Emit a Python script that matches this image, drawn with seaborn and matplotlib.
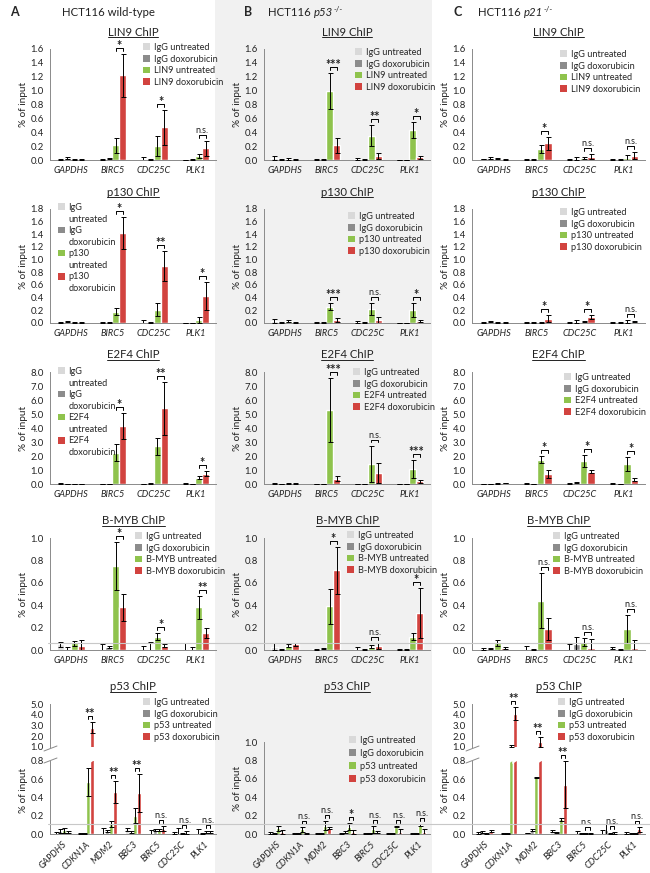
import numpy as np
import pandas as pd
import matplotlib
matplotlib.use("Agg")
import matplotlib.pyplot as plt
import matplotlib.transforms as mtrans
from matplotlib.patches import Patch, Rectangle, Polygon
from matplotlib.lines import Line2D
import seaborn as sns

sns.set_style("white")
plt.rcParams['font.family'] = ['Lato', 'DejaVu Sans']

W, H = 650, 873
colors = ["#d9d9d9", "#8c8c8c", "#8fc34d", "#d2433f"]
genes = ["GAPDHS", "BIRC5", "CDC25C", "PLK1"]
genes_p53 = ["GAPDHS", "CDKN1A", "MDM2", "BBC3", "BIRC5", "CDC25C", "PLK1"]

# rows = genes, columns = IgG untreated, IgG doxorubicin, X untreated, X doxorubicin
lin9_a = [[0.01, 0.03, 0.01, 0.01], [0.005, 0.02, 0.21, 1.22], [0.005, 0.005, 0.20, 0.47], [0.0, 0.005, 0.06, 0.17]]
lin9_a_err = [[0.005, 0.01, 0.005, 0.005], [0.003, 0.01, 0.11, 0.31], [0.04, 0.005, 0.14, 0.25], [0.0, 0.003, 0.03, 0.11]]
lin9_a_sig = ["*", "*", "n.s."]
lin9_b = [[0.03, 0.01, 0.015, 0.005], [0.005, 0.005, 1.0, 0.21], [0.015, 0.005, 0.35, 0.06], [0.003, 0.003, 0.43, 0.04]]
lin9_b_err = [[0.03, 0.005, 0.01, 0.003], [0.003, 0.003, 0.26, 0.11], [0.01, 0.003, 0.15, 0.04], [0.002, 0.002, 0.12, 0.02]]
lin9_b_sig = ["***", "**", "*"]
lin9_c = [[0.015, 0.03, 0.02, 0.01], [0.005, 0.005, 0.16, 0.24], [0.01, 0.02, 0.03, 0.05], [0.005, 0.01, 0.03, 0.06]]
lin9_c_err = [[0.005, 0.01, 0.005, 0.005], [0.003, 0.003, 0.06, 0.09], [0.005, 0.02, 0.02, 0.04], [0.003, 0.005, 0.04, 0.05]]
lin9_c_sig = ["*", "n.s.", "n.s."]

p130_a = [[0.005, 0.02, 0.01, 0.01], [0.005, 0.01, 0.18, 1.42], [0.005, 0.005, 0.21, 0.90], [0.003, 0.003, 0.05, 0.43]]
p130_a_err = [[0.003, 0.01, 0.005, 0.005], [0.003, 0.01, 0.05, 0.25], [0.04, 0.003, 0.10, 0.23], [0.002, 0.002, 0.05, 0.22]]
p130_a_sig = ["*", "**", "*"]
p130_b = [[0.03, 0.005, 0.035, 0.01], [0.005, 0.005, 0.26, 0.05], [0.015, 0.005, 0.22, 0.04], [0.003, 0.003, 0.20, 0.03]]
p130_b_err = [[0.03, 0.003, 0.02, 0.005], [0.003, 0.003, 0.05, 0.03], [0.01, 0.003, 0.10, 0.05], [0.002, 0.002, 0.11, 0.01]]
p130_b_sig = ["***", "n.s.", "*"]
p130_c = [[0.01, 0.02, 0.01, 0.005], [0.005, 0.005, 0.01, 0.07], [0.01, 0.02, 0.02, 0.10], [0.005, 0.01, 0.02, 0.02]]
p130_c_err = [[0.003, 0.01, 0.003, 0.003], [0.003, 0.003, 0.005, 0.06], [0.005, 0.02, 0.005, 0.03], [0.003, 0.005, 0.02, 0.01]]
p130_c_sig = ["*", "*", "n.s."]

e2f4_a = [[0.05, 0.02, 0.02, 0.02], [0.02, 0.02, 2.25, 4.15], [0.02, 0.04, 2.7, 5.4], [0.03, 0.02, 0.45, 0.75]]
e2f4_a_err = [[0.02, 0.01, 0.01, 0.01], [0.01, 0.01, 0.6, 0.95], [0.01, 0.02, 0.6, 1.9], [0.01, 0.01, 0.1, 0.18]]
e2f4_a_sig = ["*", "**", "*"]
e2f4_b = [[0.03, 0.01, 0.04, 0.04], [0.005, 0.005, 5.28, 0.38], [0.02, 0.005, 1.45, 0.8], [0.005, 0.005, 1.05, 0.18]]
e2f4_b_err = [[0.01, 0.005, 0.01, 0.01], [0.003, 0.003, 2.3, 0.18], [0.01, 0.003, 1.3, 0.72], [0.003, 0.003, 0.65, 0.1]]
e2f4_b_sig = ["***", "n.s.", "***"]
e2f4_c = [[0.02, 0.02, 0.03, 0.07], [0.03, 0.005, 1.75, 0.7], [0.05, 0.1, 1.65, 0.88], [0.03, 0.005, 1.4, 0.3]]
e2f4_c_err = [[0.01, 0.01, 0.01, 0.02], [0.01, 0.003, 0.28, 0.3], [0.02, 0.03, 0.4, 0.12], [0.01, 0.003, 0.5, 0.12]]
e2f4_c_sig = ["*", "*", "*"]

bmyb_a = [[0.05, 0.005, 0.06, 0.04], [0.005, 0.03, 0.75, 0.38], [0.005, 0.005, 0.12, 0.04], [0.01, 0.005, 0.38, 0.15]]
bmyb_a_err = [[0.02, 0.02, 0.02, 0.045], [0.05, 0.01, 0.21, 0.12], [0.03, 0.07, 0.035, 0.01], [0.05, 0.02, 0.1, 0.045]]
bmyb_a_sig = ["*", "*", "**"]
bmyb_b = [[0.03, 0.005, 0.04, 0.05], [0.005, 0.01, 0.39, 0.71], [0.01, 0.005, 0.03, 0.035], [0.003, 0.003, 0.12, 0.33]]
bmyb_b_err = [[0.03, 0.003, 0.015, 0.01], [0.003, 0.005, 0.155, 0.21], [0.015, 0.003, 0.015, 0.025], [0.002, 0.002, 0.035, 0.22]]
bmyb_b_sig = ["*", "n.s.", "*"]
bmyb_c = [[0.01, 0.01, 0.065, 0.02], [0.005, 0.005, 0.44, 0.19], [0.005, 0.05, 0.07, 0.015], [0.015, 0.005, 0.19, 0.02]]
bmyb_c_err = [[0.01, 0.005, 0.025, 0.01], [0.03, 0.003, 0.245, 0.1], [0.05, 0.07, 0.035, 0.085], [0.01, 0.003, 0.125, 0.065]]
bmyb_c_sig = ["n.s.", "n.s.", "n.s."]

p53_a = [[0.005, 0.03, 0.04, 0.02], [0.005, 0.005, 0.57, 2.8], [0.01, 0.03, 0.11, 0.46], [0.05, 0.02, 0.20, 0.45],
         [0.01, 0.04, 0.04, 0.06], [0.01, 0.01, 0.01, 0.015], [0.005, 0.005, 0.02, 0.02]]
p53_a_err = [[0.02, 0.02, 0.03, 0.01], [0.003, 0.003, 0.15, 0.5], [0.06, 0.01, 0.035, 0.12], [0.02, 0.01, 0.08, 0.21],
             [0.03, 0.01, 0.01, 0.025], [0.015, 0.06, 0.005, 0.015], [0.05, 0.003, 0.01, 0.01]]
p53_a_sig = ["**", "**", "**", "n.s.", "n.s.", "n.s."]
p53_b = [[0.01, 0.005, 0.06, 0.025], [0.005, 0.005, 0.05, 0.01], [0.005, 0.005, 0.09, 0.065], [0.01, 0.02, 0.08, 0.02],
         [0.01, 0.005, 0.05, 0.02], [0.005, 0.01, 0.08, 0.02], [0.005, 0.005, 0.10, 0.02]]
p53_b_err = [[0.01, 0.003, 0.025, 0.02], [0.003, 0.003, 0.025, 0.005], [0.003, 0.003, 0.05, 0.01], [0.005, 0.01, 0.04, 0.02],
             [0.005, 0.003, 0.035, 0.01], [0.003, 0.005, 0.005, 0.03], [0.003, 0.003, 0.01, 0.035]]
p53_b_sig = ["n.s.", "n.s.", "*", "n.s.", "n.s.", "n.s."]
p53_c = [[0.01, 0.02, 0.01, 0.03], [0.005, 0.005, 1.1, 4.1], [0.01, 0.04, 0.62, 1.45], [0.03, 0.015, 0.16, 0.54],
         [0.005, 0.005, 0.01, 0.01], [0.005, 0.04, 0.01, 0.01], [0.01, 0.005, 0.01, 0.05]]
p53_c_err = [[0.01, 0.01, 0.005, 0.01], [0.003, 0.003, 0.08, 0.62], [0.003, 0.01, 0.01, 0.45], [0.01, 0.005, 0.02, 0.26],
             [0.03, 0.003, 0.005, 0.005], [0.04, 0.07, 0.005, 0.01], [0.01, 0.003, 0.005, 0.03]]
p53_c_sig = ["**", "**", "**", "n.s.", "n.s.", "n.s."]

fig = plt.figure(figsize=(W / 100, H / 100), dpi=100)
fig.patches.append(Rectangle((215 / W, 0), 217 / W, 1, transform=fig.transFigure,
                             facecolor="#f1f1f1", edgecolor="none", zorder=-5))
titles = []


def px_axes(x0, y0, x1, y1):
    ax = fig.add_axes([x0 / W, 1 - y1 / H, (x1 - x0) / W, (y1 - y0) / H])
    ax.patch.set_alpha(0)
    return ax


def style(ax, n, ylim, step, bottom=True):
    ax.set_xlim(-0.5, n - 0.5)
    ax.set_ylim(*ylim)
    ticks = np.arange(ylim[0], ylim[1] + 1e-6, step)
    ax.set_yticks(ticks)
    ax.set_yticklabels([f"{t:.1f}" for t in ticks])
    for s in ["top", "right"]:
        ax.spines[s].set_visible(False)
    for s in ["left", "bottom"]:
        ax.spines[s].set_color("#8a8a8a")
        ax.spines[s].set_linewidth(0.7)
    ax.tick_params(axis="y", labelsize=6.8, length=2.5, width=0.6, color="#8a8a8a", pad=2, labelcolor="#222222")
    ax.set_xticks(np.arange(-0.5, n), minor=True)
    ax.tick_params(axis="x", which="minor", length=3, width=0.6, color="#8a8a8a")
    ax.tick_params(axis="x", which="major", length=0, pad=4, labelsize=6.6, labelcolor="#222222")
    if not bottom:
        ax.spines["bottom"].set_visible(False)
        ax.tick_params(axis="x", which="both", length=0, labelbottom=False)
    ax.set_xlabel("")
    ax.set_ylabel("")


def bars(ax, glist, vals, errs, prot):
    vals = np.array(vals)
    errs = np.array(errs)
    conds = ["IgG untreated", "IgG doxorubicin", f"{prot} untreated", f"{prot} doxorubicin"]
    df = pd.DataFrame([(g, c, vals[i, j]) for i, g in enumerate(glist) for j, c in enumerate(conds)],
                      columns=["gene", "cond", "value"])
    sns.barplot(data=df, x="gene", y="value", hue="cond", order=glist, hue_order=conds,
                palette=colors, saturation=1, errorbar=None, width=0.68, legend=False, ax=ax)
    centers = []
    for j, cont in enumerate(list(ax.containers)):
        xs = np.array([b.get_x() + b.get_width() / 2 for b in cont])
        centers.append(xs)
        ax.errorbar(xs, vals[:, j], yerr=errs[:, j], fmt="none", ecolor="black",
                    elinewidth=0.7, capsize=1.8, capthick=0.7, zorder=3)
    return np.array(centers), vals + errs


def px_to_data(ax, y, dpx):
    yd = ax.transData.transform((0, y))[1] + dpx
    return ax.transData.inverted().transform((0, yd))[1]


def brackets(axes_list, centers, tops, sig):
    for k, s in enumerate(sig):
        i = k + 1
        top = max(tops[i, 2], tops[i, 3])
        ax = axes_list[0]
        for a in axes_list:
            if a.get_ylim()[0] <= top <= a.get_ylim()[1]:
                ax = a
        h = px_to_data(ax, top, 6)
        d = h - px_to_data(ax, top, 3)
        x1, x2 = centers[2][i], centers[3][i]
        ax.plot([x1, x1, x2, x2], [h - d, h, h, h - d], color="black", lw=0.7, clip_on=False, zorder=4)
        if s == "n.s.":
            ax.text((x1 + x2) / 2, h, s, ha="center", va="bottom", fontsize=6.5, color="#222222", clip_on=False)
        else:
            hs = px_to_data(ax, h, -4)
            ax.text((x1 + x2) / 2, hs, s, ha="center", va="bottom", fontsize=9, fontweight="bold",
                    color="#222222", clip_on=False)


def legend(ax, prot, x, y, wrap=False, spacing=0.28):
    conds = ["IgG untreated", "IgG doxorubicin", f"{prot} untreated", f"{prot} doxorubicin"]
    handles, labels = [], []
    for c, col in zip(conds, colors):
        if wrap:
            a, b = c.split(" ")
            handles += [Patch(facecolor=col, edgecolor="none"), Patch(facecolor="none", edgecolor="none")]
            labels += [a, b]
        else:
            handles.append(Patch(facecolor=col, edgecolor="none"))
            labels.append(c)
    ax.legend(handles, labels, loc="upper left", bbox_to_anchor=(x / W, 1 - (y - 5) / H),
              bbox_transform=fig.transFigure, frameon=False, fontsize=6.6, handlelength=0.75,
              handleheight=0.75, handletextpad=0.4, labelspacing=spacing, borderpad=0, borderaxespad=0)


def title(ax, text, dy):
    t = ax.text(0.5, 1, text, transform=mtrans.offset_copy(ax.transAxes, x=0, y=dy, units="dots"),
                ha="center", va="center", fontsize=8.2, color="#222222")
    titles.append(t)


def ylabel(ax, x_px, y=0.5):
    w = ax.get_position().width * W
    ax.text(-x_px / w, y, "% of input", transform=ax.transAxes, rotation=90,
            ha="center", va="center", fontsize=7.2, color="#222222")


def break_cuts(ax, ymax):
    # white diagonal gaps over bars that run through the axis break
    for cont in ax.containers:
        if not hasattr(cont, "patches"):
            continue
        for b in cont.patches:
            if b.get_height() > ymax:
                (dx0, _), (dx1, _) = ax.transData.transform([(b.get_x(), 0), (b.get_x() + b.get_width(), 0)])
                xl, xr = dx0 - 1, dx1 + 1
                pts = [(xl, H - 752), (xr, H - 748), (xr, H - 760), (xl, H - 764)]
                fig.patches.append(Polygon(fig.transFigure.inverted().transform(pts), closed=True,
                                           transform=fig.transFigure, facecolor="white", edgecolor="none", zorder=1))


def header(x, letter, parts):
    fig.text((x - 24) / W if letter != "A" else 10 / W, 1 - 12 / H, letter, fontsize=9, fontweight="bold", va="center")
    renderer = fig.canvas.get_renderer()
    px = x
    for txt, kind in parts:
        if kind == "sup":
            t = fig.text(px / W, 1 - 9 / H, txt, fontsize=5.5, va="center", color="#222222")
        else:
            t = fig.text(px / W, 1 - 12 / H, txt, fontsize=8.2, va="center", color="#222222",
                         fontstyle="italic" if kind == "it" else "normal")
        px += t.get_window_extent(renderer).width + (0.5 if kind == "it" else 0)


cols = [(50, 216), (264, 430), (472, 645)]
rows = [(49, 160), (209, 323), (372, 484), (538, 650)]
panels = [
    ("LIN9", (0, 1.6), 0.2, [(lin9_a, lin9_a_err, lin9_a_sig), (lin9_b, lin9_b_err, lin9_b_sig), (lin9_c, lin9_c_err, lin9_c_sig)],
     [(143, 48, False), (355, 53, False), (560, 55, False)]),
    ("p130", (0, 1.8), 0.2, [(p130_a, p130_a_err, p130_a_sig), (p130_b, p130_b_err, p130_b_sig), (p130_c, p130_c_err, p130_c_sig)],
     [(58, 208, True), (348, 217, False), (560, 213, False)]),
    ("E2F4", (0, 8.0), 1.0, [(e2f4_a, e2f4_a_err, e2f4_a_sig), (e2f4_b, e2f4_b_err, e2f4_b_sig), (e2f4_c, e2f4_c_err, e2f4_c_sig)],
     [(58, 372, True), (353, 373, False), (564, 378, False)]),
    ("B-MYB", (0, 1.0), 0.2, [(bmyb_a, bmyb_a_err, bmyb_a_sig), (bmyb_b, bmyb_b_err, bmyb_b_sig), (bmyb_c, bmyb_c_err, bmyb_c_sig)],
     [(135, 537, False), (347, 536, False), (553, 537, False)]),
]

row_axes = []
for r, (prot, ylim, step, datasets, legs) in enumerate(panels):
    for c, ((v, e, s), (lx, ly, wrap)) in enumerate(zip(datasets, legs)):
        ax = px_axes(cols[c][0], rows[r][0], cols[c][1], rows[r][1])
        cen, tops = bars(ax, genes, v, e, prot)
        style(ax, 4, ylim, step)
        ax.set_xticks(range(4))
        ax.set_xticklabels(genes, fontstyle="italic")
        brackets([ax], cen, tops, s)
        legend(ax, prot, lx, ly, wrap)
        title(ax, f"{prot} ChIP", 17)
        ylabel(ax, 26)
        if r == 3 and c == 0:
            row_axes.append(ax)

# p53 row
p53_axes = []
for c, (v, e, s) in enumerate([(p53_a, p53_a_err, p53_a_sig), (p53_b, p53_b_err, p53_b_sig), (p53_c, p53_c_err, p53_c_sig)]):
    x0, x1 = cols[c]
    if c == 1:
        ax = px_axes(x0, 742, x1, 834)
        cen, tops = bars(ax, genes_p53, v, e, "p53")
        style(ax, 7, (0, 1.0), 0.2)
        axl = [ax]
        legend(ax, "p53", 349, 741, spacing=0.42)
        title(ax, "p53 ChIP", 55)
        ylabel(ax, 26)
    else:
        ax_up = px_axes(x0, 704, x1, 747)
        bars(ax_up, genes_p53, v, e, "p53")
        style(ax_up, 7, (1.0, 5.0), 1.0, bottom=False)
        ax = px_axes(x0, 761, x1, 834)
        cen, tops = bars(ax, genes_p53, v, e, "p53")
        style(ax, 7, (0, 0.8), 0.2)
        axl = [ax, ax_up]
        legend(ax, "p53", 143 if c == 0 else 558, 703)
        title(ax_up, "p53 ChIP", 17)
        ylabel(ax, 26, 0.6)
        break_cuts(ax, 0.8)
        kw = dict(transform=fig.transFigure, color="#8a8a8a", lw=0.7, zorder=3)
        for ya, yb in ((751, 746), (763, 758)):
            fig.lines.append(Line2D([(x0 - 6) / W, (x0 + 7) / W], [1 - ya / H, 1 - yb / H], **kw))
    ax.set_xticks(range(7))
    ax.set_xticklabels(genes_p53, fontstyle="italic", rotation=45, ha="right", rotation_mode="anchor")
    brackets(axl, cen, tops, s)
    if c == 0:
        p53_axes.append(ax)

# background lines across the B-MYB and p53 rows
bmyb_line = 0.065
p53_line = 0.105
fig.lines.append(Line2D([48 / W, 1], [bmyb_line, bmyb_line], color="#c8c8c8", lw=0.8,
                        transform=mtrans.blended_transform_factory(fig.transFigure, row_axes[0].transData)))
fig.lines.append(Line2D([48 / W, 1], [p53_line, p53_line], color="#c8c8c8", lw=0.8,
                        transform=mtrans.blended_transform_factory(fig.transFigure, p53_axes[0].transData)))

header(62, "A", [("HCT116 wild-type", "rm")])
header(268, "B", [("HCT116 ", "rm"), ("p53", "it"), ("-/-", "sup")])
header(478, "C", [("HCT116 ", "rm"), ("p21", "it"), ("-/-", "sup")])

fig.canvas.draw()
inv = fig.transFigure.inverted()
for t in titles:
    bb = t.get_window_extent()
    (fx0, fy0), (fx1, _) = inv.transform([(bb.x0, bb.y0 + 1), (bb.x1, bb.y0)])
    fig.lines.append(Line2D([fx0, fx1], [fy0, fy0], transform=fig.transFigure, color="#222222", lw=0.7))

fig.savefig("out.png", dpi=100)
